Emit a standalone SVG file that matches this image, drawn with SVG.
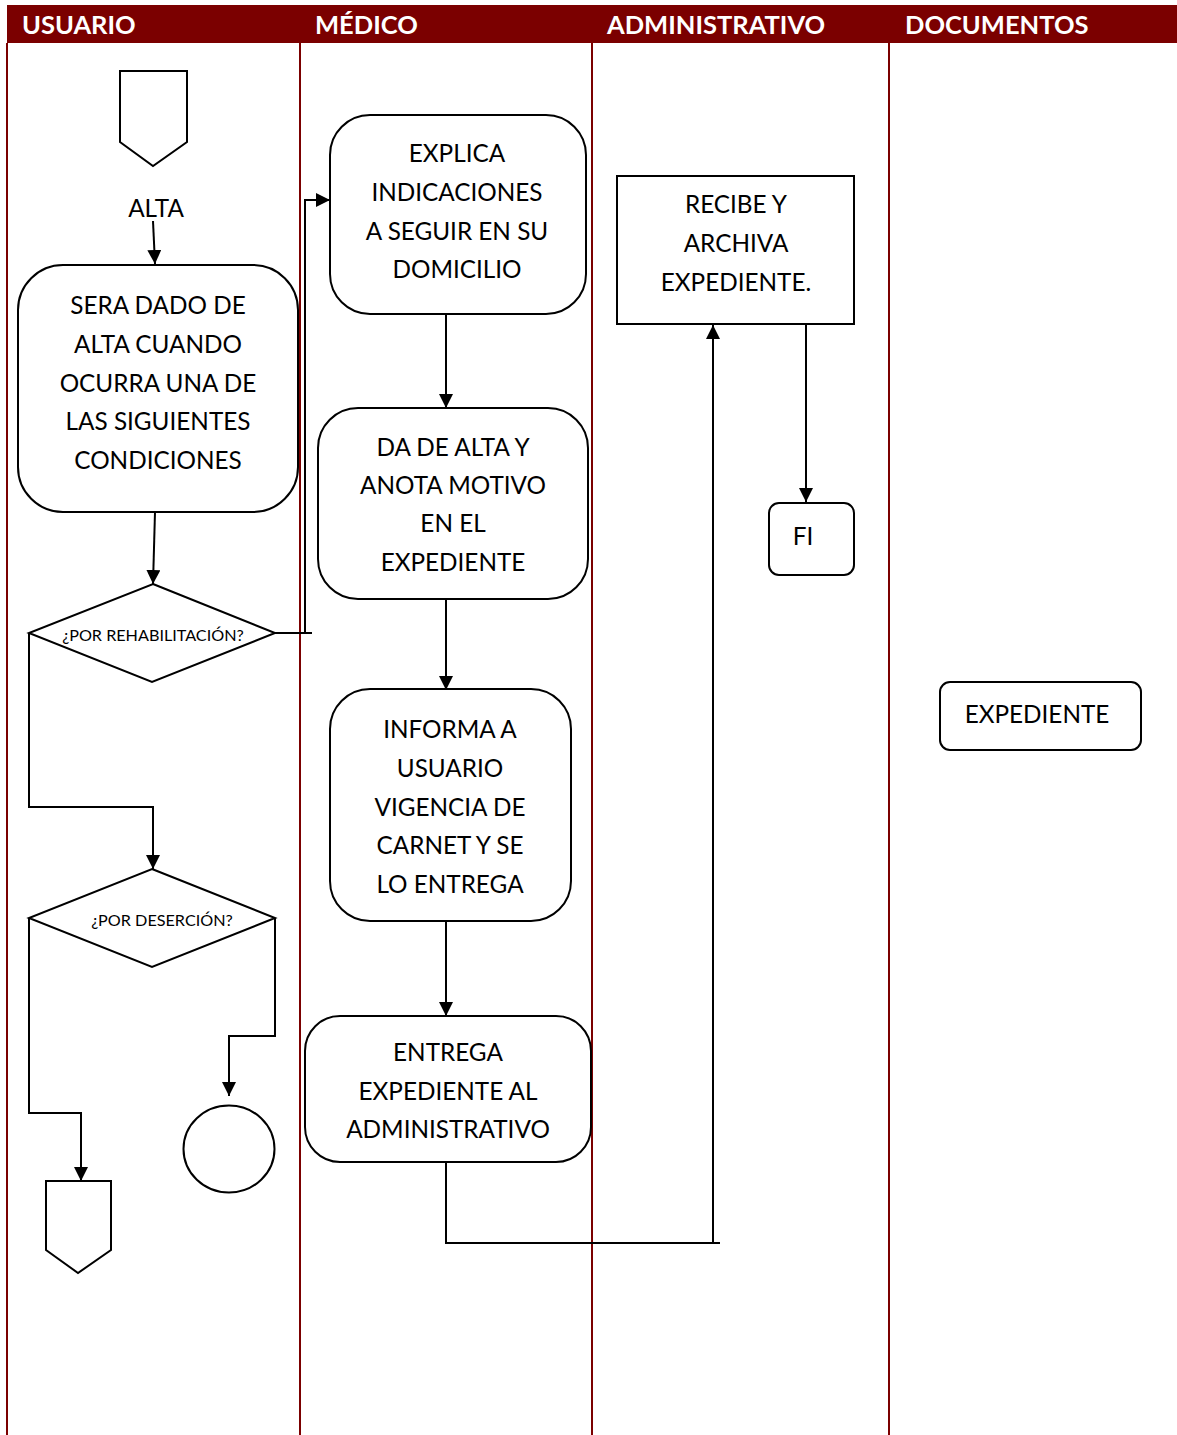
<svg xmlns="http://www.w3.org/2000/svg" width="1177" height="1435" viewBox="0 0 1177 1435">
  <defs>
    <marker id="arrow" viewBox="0 0 14 14" refX="14" refY="7" markerWidth="14" markerHeight="14" markerUnits="userSpaceOnUse" orient="auto">
      <path d="M0,0 L14,7 L0,14 Z" fill="#000"/>
    </marker>
    <style>
      .lane { stroke: #7B0000; stroke-width: 2; fill: none; }
      .head { fill: #FFFFFF; font-family: Lato, "Open Sans", sans-serif; font-weight: bold; font-size: 25.5px; }
      .shape { fill: #FFFFFF; stroke: #000; stroke-width: 2; }
      .label { fill: #000; font-family: Lato, "Open Sans", sans-serif; font-size: 24.3px; text-anchor: middle; }
      .small { fill: #000; font-family: Lato, "Open Sans", sans-serif; font-size: 16.2px; text-anchor: middle; }
      .conn { fill: none; stroke: #000; stroke-width: 2; }
      .conn-a { fill: none; stroke: #000; stroke-width: 2; marker-end: url(#arrow); }
    </style>
  </defs>

  <rect width="1177" height="1435" fill="#FFFFFF"/>

  <!-- swimlane header and dividers -->
  <g id="lanes">
    <rect x="7" y="5" width="1170" height="38" fill="#7B0000"/>
    <text class="head" x="22" y="34">USUARIO</text>
    <text class="head" x="315" y="34">MÉDICO</text>
    <text class="head" x="607" y="34">ADMINISTRATIVO</text>
    <text class="head" x="905" y="34">DOCUMENTOS</text>
    <line class="lane" x1="7" y1="43" x2="7" y2="1435"/>
    <line class="lane" x1="300" y1="43" x2="300" y2="1435"/>
    <line class="lane" x1="592" y1="43" x2="592" y2="1435"/>
    <line class="lane" x1="889" y1="43" x2="889" y2="1435"/>
  </g>

  <!-- connectors -->
  <g id="connectors">
    <line class="conn-a" x1="153" y1="221" x2="155" y2="264"/>
    <line class="conn-a" x1="155" y1="512" x2="153" y2="584"/>
    <polyline class="conn" points="275,633 312,633"/>
    <polyline class="conn-a" points="305,633 305,200 330,200"/>
    <polyline class="conn-a" points="29,633 29,807 153,807 153,869"/>
    <polyline class="conn-a" points="29,918 29,1113 81,1113 81,1181"/>
    <polyline class="conn-a" points="275,918 275,1036 229,1036 229,1096"/>
    <line class="conn-a" x1="446" y1="314" x2="446" y2="408"/>
    <line class="conn-a" x1="446" y1="599" x2="446" y2="690"/>
    <line class="conn-a" x1="446" y1="921" x2="446" y2="1016"/>
    <polyline class="conn" points="446,1162 446,1243 720,1243"/>
    <line class="conn-a" x1="713" y1="1243" x2="713" y2="325"/>
    <line class="conn-a" x1="806" y1="324" x2="806" y2="502"/>
  </g>

  <!-- USUARIO lane -->
  <g id="inicio">
    <polygon class="shape" points="120,71 187,71 187,142 153,166 120,142"/>
  </g>
  <g id="alta">
    <text class="label" x="156" y="217">ALTA</text>
  </g>
  <g id="sera-dado">
    <rect class="shape" x="18" y="265" width="280" height="247" rx="45"/>
    <text class="label" x="158" y="314">SERA DADO DE</text>
    <text class="label" x="158" y="353">ALTA CUANDO</text>
    <text class="label" x="158" y="392">OCURRA UNA DE</text>
    <text class="label" x="158" y="430">LAS SIGUIENTES</text>
    <text class="label" x="158" y="469">CONDICIONES</text>
  </g>
  <g id="rehabilitacion">
    <polygon class="shape" points="153,584 275,633 152,682 29,633"/>
    <text class="small" x="153" y="641">¿POR REHABILITACIÓN?</text>
  </g>
  <g id="desercion">
    <polygon class="shape" points="152,869 275,918 152,967 29,918"/>
    <text class="small" x="162" y="926">¿POR DESERCIÓN?</text>
  </g>
  <g id="conector-pagina">
    <polygon class="shape" points="46,1181 111,1181 111,1250 78,1273 46,1250"/>
  </g>
  <g id="conector">
    <ellipse class="shape" cx="229" cy="1149" rx="45.5" ry="43.5"/>
  </g>

  <!-- MÉDICO lane -->
  <g id="explica">
    <rect class="shape" x="330" y="115" width="256" height="199" rx="40"/>
    <text class="label" x="457" y="162">EXPLICA</text>
    <text class="label" x="457" y="201">INDICACIONES</text>
    <text class="label" x="457" y="240">A SEGUIR EN SU</text>
    <text class="label" x="457" y="278">DOMICILIO</text>
  </g>
  <g id="da-de-alta">
    <rect class="shape" x="318" y="408" width="270" height="191" rx="40"/>
    <text class="label" x="453" y="456">DA DE ALTA Y</text>
    <text class="label" x="453" y="494">ANOTA MOTIVO</text>
    <text class="label" x="453" y="532">EN EL</text>
    <text class="label" x="453" y="571">EXPEDIENTE</text>
  </g>
  <g id="informa">
    <rect class="shape" x="330" y="689" width="241" height="232" rx="40"/>
    <text class="label" x="450" y="738">INFORMA A</text>
    <text class="label" x="450" y="777">USUARIO</text>
    <text class="label" x="450" y="816">VIGENCIA DE</text>
    <text class="label" x="450" y="854">CARNET Y SE</text>
    <text class="label" x="450" y="893">LO ENTREGA</text>
  </g>
  <g id="entrega">
    <rect class="shape" x="305" y="1016" width="286" height="146" rx="35"/>
    <text class="label" x="448" y="1061">ENTREGA</text>
    <text class="label" x="448" y="1100">EXPEDIENTE AL</text>
    <text class="label" x="448" y="1138">ADMINISTRATIVO</text>
  </g>

  <!-- ADMINISTRATIVO lane -->
  <g id="recibe">
    <rect class="shape" x="617" y="176" width="237" height="148"/>
    <text class="label" x="736" y="213">RECIBE Y</text>
    <text class="label" x="736" y="252">ARCHIVA</text>
    <text class="label" x="736" y="291">EXPEDIENTE.</text>
  </g>
  <g id="fin">
    <rect class="shape" x="769" y="503" width="85" height="72" rx="10"/>
    <text class="label" x="803" y="545">FI</text>
  </g>

  <!-- DOCUMENTOS lane -->
  <g id="expediente">
    <rect class="shape" x="940" y="682" width="201" height="68" rx="10"/>
    <text class="label" x="1037" y="723">EXPEDIENTE</text>
  </g>
</svg>
